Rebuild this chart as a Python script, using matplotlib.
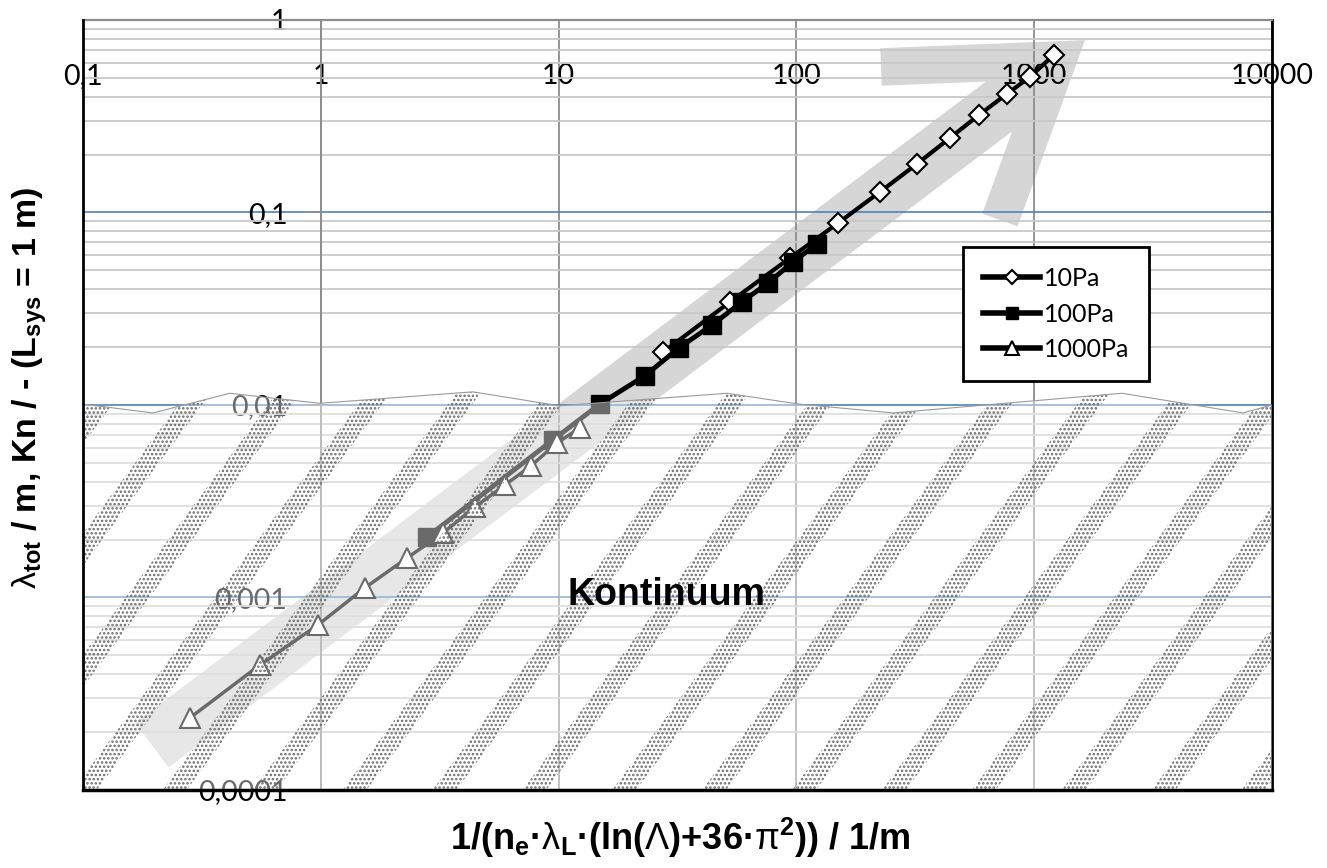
import numpy as np
import matplotlib
matplotlib.use("Agg")
import matplotlib.pyplot as plt
from matplotlib.patches import Polygon, PathPatch
from matplotlib.path import Path
from matplotlib.ticker import NullLocator, NullFormatter

plt.rcParams['font.family'] = ['Lato', 'DejaVu Sans']
plt.rcParams['mathtext.fontset'] = 'custom'
plt.rcParams['mathtext.rm'] = 'Liberation Sans'
plt.rcParams['mathtext.it'] = 'Liberation Sans:italic'
plt.rcParams['mathtext.bf'] = 'Liberation Sans:bold'
plt.rcParams['hatch.linewidth'] = 1.2

# Messreihen: x = 1/(ne*lambdaL*(ln(Lambda)+36*pi^2)) in 1/m, y = lambda_tot in m
x_10pa = [27.5, 52.6, 94.0, 150, 225, 322, 443, 586, 769, 960, 1210]
y_10pa = [0.0188, 0.0343, 0.0580, 0.0882, 0.128, 0.179, 0.244, 0.321, 0.413, 0.506, 0.658]

x_100pa = [2.80, 9.47, 14.9, 23.1, 32.1, 44.2, 59.0, 76.0, 96.8, 122]
y_100pa = [0.00206, 0.00658, 0.0101, 0.0142, 0.0198, 0.0260, 0.0343, 0.0430, 0.0553, 0.0686]

x_1000pa = [0.282, 0.555, 0.973, 1.53, 2.30, 3.26, 4.45, 5.95, 7.65, 9.85, 12.3]
y_1000pa = [0.000237, 0.000446, 0.000720, 0.00112, 0.00160, 0.00216, 0.00295,
            0.00384, 0.00482, 0.00635, 0.00760]

x_ticks = [0.1, 1, 10, 100, 1000, 10000]
x_tick_labels = ['0,1', '1', '10', '100', '1000', '10000']
y_ticks = [0.0001, 0.001, 0.01, 0.1, 1]
y_tick_labels = ['0,0001', '0,001', '0,01', '0,1', '1']

# obere Grenze des Kontinuum-Bereichs (leicht gewellt)
grenze_x = [0.1, 0.197, 0.415, 0.99, 4.36, 10.1, 51, 103, 255, 988, 2340, 7550, 10000]
grenze_y = [0.0101, 0.00909, 0.0115, 0.0102, 0.0117, 0.0099, 0.0115, 0.0101,
            0.00909, 0.0105, 0.0115, 0.00909, 0.0100]

# grauer Trendpfeil
pfeil_schaft_x = [0.195, 1110]
pfeil_schaft_y = [0.000171, 0.537]
pfeil_kopf_x = [227, 1259, 718]
pfeil_kopf_y = [0.570, 0.620, 0.0914]

fig = plt.figure(figsize=(13.27, 8.68), dpi=100)
ax = fig.add_axes([0.0625, 0.0899, 0.8960, 0.8871])
ax.set_xscale('log')
ax.set_yscale('log')
ax.set_xlim(0.1, 10000)
ax.set_ylim(1e-4, 1)

# Achsen kreuzen bei x=1 bzw. y=1
ax.spines['left'].set_position(('data', 1))
ax.spines['left'].set_color('#8c8c8c')
ax.spines['left'].set_linewidth(1.3)
ax.spines['bottom'].set_position(('data', 1))
ax.spines['bottom'].set_visible(False)
ax.spines['top'].set_color('#8c8c8c')
ax.spines['top'].set_linewidth(1.6)
ax.spines['right'].set_color('black')
ax.spines['right'].set_linewidth(2)
ax.axvline(0.1, color='black', lw=2, zorder=6, clip_on=False)
ax.axhline(1e-4, color='black', lw=2.5, zorder=6, clip_on=False)

ax.set_xticks(x_ticks, x_tick_labels)
ax.set_yticks(y_ticks, y_tick_labels)
ax.xaxis.set_minor_locator(NullLocator())
ax.yaxis.set_minor_formatter(NullFormatter())
ax.tick_params(axis='x', which='both', length=0, pad=31, labelsize=20.5)
ax.tick_params(axis='y', which='major', direction='out', length=9, width=1.3,
               color='#8c8c8c', pad=15, labelsize=20.5)
ax.tick_params(axis='y', which='minor', length=0)

ax.set_axisbelow('line')
ax.xaxis.grid(True, which='major', color='#8c8c8c', lw=1.3)
ax.yaxis.grid(True, which='major', color='#4f81bd', lw=1.2)
ax.yaxis.grid(True, which='minor', color='#c8c8c8', lw=1.3)

# Pfeil
ax.plot(pfeil_schaft_x, pfeil_schaft_y, color='#d6d6d6', lw=40,
        solid_capstyle='butt', zorder=1)
ax.plot(pfeil_kopf_x, pfeil_kopf_y, color='#d6d6d6', lw=27,
        solid_capstyle='butt', solid_joinstyle='miter', zorder=1)

# Messwerte
ax.plot(x_10pa, y_10pa, color='black', lw=3, marker='D', ms=10, mfc='white',
        mec='black', mew=1.5, label='10Pa', zorder=3)
ax.plot(x_100pa, y_100pa, color='black', lw=3.5, marker='s', ms=13, mfc='black',
        mec='black', label='100Pa', zorder=3.1)
ax.plot(x_1000pa, y_1000pa, color='black', lw=2.5, marker='^', ms=15, mfc='white',
        mec='black', mew=1.5, label='1000Pa', zorder=3.2)

# Kontinuum-Bereich: weisser Schleier + gepunktete Schraegstreifen
rand = list(zip(grenze_x, grenze_y)) + [(1e4, 1e-4), (0.1, 1e-4)]
schleier = Polygon(rand, closed=True, facecolor='white', alpha=0.42,
                   edgecolor='none', zorder=5)
ax.add_patch(schleier)
ax.plot(grenze_x, grenze_y, color='#9a9a9a', lw=0.8, zorder=5.2)

steigung = 1.67   # Dekaden y pro Dekade x
breite = 0.10
abstand = 0.378
hoehe = 2.3
verts, codes = [], []
for k in range(-5, 14):
    u0 = -1 + 80 / 237.8 + k * abstand
    du = hoehe / steigung
    for u, v in [(u0, -4), (u0 + breite, -4), (u0 + breite + du, -4 + hoehe), (u0 + du, -4 + hoehe)]:
        verts.append((10 ** u, 10 ** v))
    verts.append((10 ** u0, 1e-4))
    codes += [Path.MOVETO, Path.LINETO, Path.LINETO, Path.LINETO, Path.CLOSEPOLY]
streifen = PathPatch(Path(verts, codes), facecolor='none', edgecolor='#6a6a6a',
                     lw=0, hatch='....', zorder=5.1)
ax.add_patch(streifen)
streifen.set_clip_path(schleier)

ax.text(0.491, 0.253, 'Kontinuum', transform=ax.transAxes, ha='center', va='center',
        fontsize=27, fontweight='bold', family='Liberation Sans', zorder=7)

leg = ax.legend(loc='upper left', bbox_to_anchor=(0.740, 0.705), borderaxespad=0,
                frameon=True, fancybox=False, edgecolor='black', framealpha=1,
                fontsize=18, handlelength=2.3, handletextpad=0.15, labelspacing=0.5,
                borderpad=0.8, markerscale=0.7)
leg.get_frame().set_linewidth(2)
leg.set_zorder(8)
for linie in leg.get_lines():
    linie.set_linewidth(4)

fig.text(0.0226, 0.553, r'$\mathrm{\lambda}_{\mathbf{tot}}$ / m, Kn / - (L$_{\mathbf{sys}}$ = 1 m)',
         rotation=90, ha='center', va='center', fontsize=24.5, fontweight='bold',
         family='Liberation Sans')
fig.text(0.5124, 0.0346,
         r'1/(n$_{\mathbf{e}}$·$\mathrm{\lambda}_{\mathbf{L}}$·(ln($\mathrm{\Lambda}$)+36·$\mathrm{\pi}^{\mathbf{2}}$)) / 1/m',
         ha='center', va='center', fontsize=26, fontweight='bold', family='Liberation Sans')

fig.savefig('out.png', dpi=100)
